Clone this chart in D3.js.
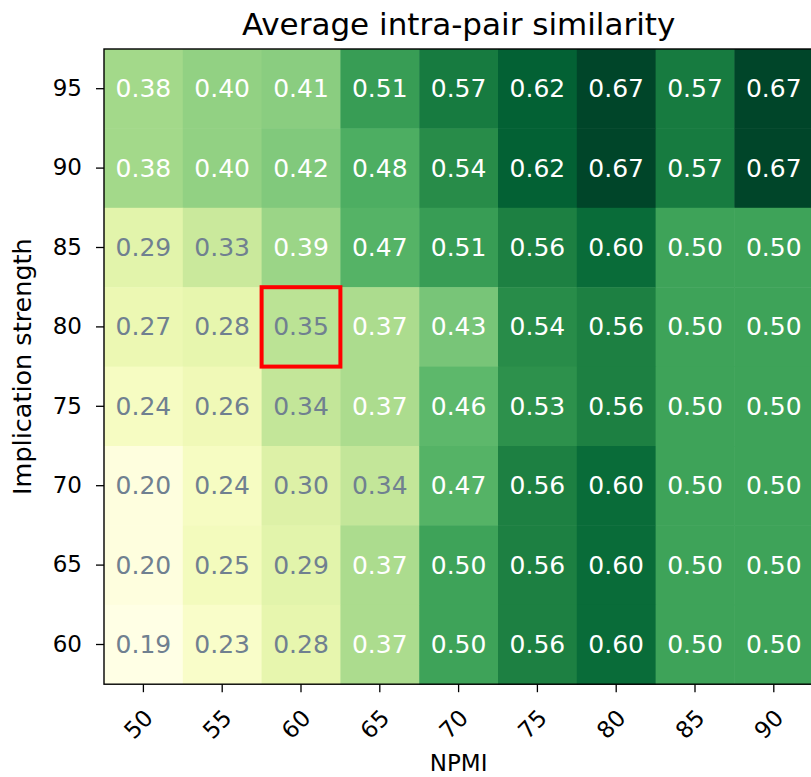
<!DOCTYPE html>
<html>
<head>
<meta charset="utf-8">
<script src="https://cdn.jsdelivr.net/npm/d3@7"></script>
<style>
  body { margin: 0; background: #fff; overflow: hidden; }
  text { font-family: "DejaVu Sans", sans-serif; }
</style>
</head>
<body>
<div id="chart"></div>
<script>
// data
var npmi = ["50", "55", "60", "65", "70", "75", "80", "85", "90"];
var strength = ["95", "90", "85", "80", "75", "70", "65", "60"];

var row95 = [0.38, 0.40, 0.41, 0.51, 0.57, 0.62, 0.67, 0.57, 0.67];
var row90 = [0.38, 0.40, 0.42, 0.48, 0.54, 0.62, 0.67, 0.57, 0.67];
var row85 = [0.29, 0.33, 0.39, 0.47, 0.51, 0.56, 0.60, 0.50, 0.50];
var row80 = [0.27, 0.28, 0.35, 0.37, 0.43, 0.54, 0.56, 0.50, 0.50];
var row75 = [0.24, 0.26, 0.34, 0.37, 0.46, 0.53, 0.56, 0.50, 0.50];
var row70 = [0.20, 0.24, 0.30, 0.34, 0.47, 0.56, 0.60, 0.50, 0.50];
var row65 = [0.20, 0.25, 0.29, 0.37, 0.50, 0.56, 0.60, 0.50, 0.50];
var row60 = [0.19, 0.23, 0.28, 0.37, 0.50, 0.56, 0.60, 0.50, 0.50];
var rows = [row95, row90, row85, row80, row75, row70, row65, row60];

// highlighted cell
var markX = "60", markY = "80";

// svg size
var svgWidth = 811;
var svgHeight = 777;

var margin = { top: 49, left: 104 };
var cellW = 78.8;
var cellH = 79.4;
var chartWidth = cellW * npmi.length;
var chartHeight = cellH * strength.length;

var svg = d3.select("#chart")
  .append("svg")
  .attr("width", svgWidth)
  .attr("height", svgHeight);

var chartGroup = svg.append("g")
  .attr("transform", "translate(" + margin.left + "," + margin.top + ")");

var xScale = d3.scaleBand().domain(npmi).range([0, chartWidth]);
var yScale = d3.scaleBand().domain(strength).range([0, chartHeight]);

var allVals = rows.flat();
var color = d3.scaleSequential(d3.interpolateYlGn)
  .domain([d3.min(allVals), d3.max(allVals)]);

var cells = [];
rows.forEach(function(r, i) {
  r.forEach(function(v, j) {
    cells.push({ x: npmi[j], y: strength[i], v: v });
  });
});

chartGroup.selectAll("rect.cell")
  .data(cells).enter()
  .append("rect")
  .attr("class", "cell")
  .attr("x", d => xScale(d.x))
  .attr("y", d => yScale(d.y))
  .attr("width", xScale.bandwidth() + 0.5)
  .attr("height", yScale.bandwidth() + 0.5)
  .attr("fill", d => color(d.v));

chartGroup.selectAll("text.val")
  .data(cells).enter()
  .append("text")
  .attr("class", "val")
  .attr("x", d => xScale(d.x) + xScale.bandwidth() / 2)
  .attr("y", d => yScale(d.y) + yScale.bandwidth() / 2)
  .attr("text-anchor", "middle")
  .attr("dominant-baseline", "central")
  .attr("font-size", 25)
  .attr("fill", d => d.v < 0.36 ? "#708090" : "#ffffff")
  .text(d => d.v.toFixed(2));

// red box
chartGroup.append("rect")
  .attr("x", xScale(markX))
  .attr("y", yScale(markY))
  .attr("width", xScale.bandwidth())
  .attr("height", yScale.bandwidth())
  .attr("fill", "none")
  .attr("stroke", "#ff0000")
  .attr("stroke-width", 4);

// axes
var xAxis = d3.axisBottom(xScale).tickSize(8).tickPadding(4);
var yAxis = d3.axisLeft(yScale).tickSize(8).tickPadding(14);

var gx = chartGroup.append("g")
  .attr("transform", "translate(0," + chartHeight + ")")
  .call(xAxis);
gx.select(".domain").remove();
gx.selectAll("line").attr("stroke", "#000").attr("stroke-width", 1.3);
gx.selectAll("text")
  .attr("font-size", 23)
  .attr("fill", "#000")
  .attr("text-anchor", "middle")
  .attr("dominant-baseline", "central")
  .attr("y", 0).attr("dy", null)
  .attr("transform", "translate(-5,40) rotate(-45)");

var gy = chartGroup.append("g").call(yAxis);
gy.select(".domain").remove();
gy.selectAll("line").attr("stroke", "#000").attr("stroke-width", 1.3);
gy.selectAll("text").attr("font-size", 23).attr("fill", "#000");

// frame
chartGroup.append("rect")
  .attr("width", chartWidth)
  .attr("height", chartHeight)
  .attr("fill", "none")
  .attr("stroke", "#000")
  .attr("stroke-width", 1.4);

// titles
svg.append("text")
  .attr("x", margin.left + chartWidth / 2)
  .attr("y", 35)
  .attr("text-anchor", "middle")
  .attr("font-size", 31)
  .text("Average intra-pair similarity");

svg.append("text")
  .attr("x", margin.left + chartWidth / 2)
  .attr("y", 771)
  .attr("text-anchor", "middle")
  .attr("font-size", 23)
  .text("NPMI");

svg.append("text")
  .attr("transform", "translate(31," + (margin.top + chartHeight / 2) + ") rotate(-90)")
  .attr("text-anchor", "middle")
  .attr("font-size", 25.5)
  .text("Implication strength");
</script>
</body>
</html>
